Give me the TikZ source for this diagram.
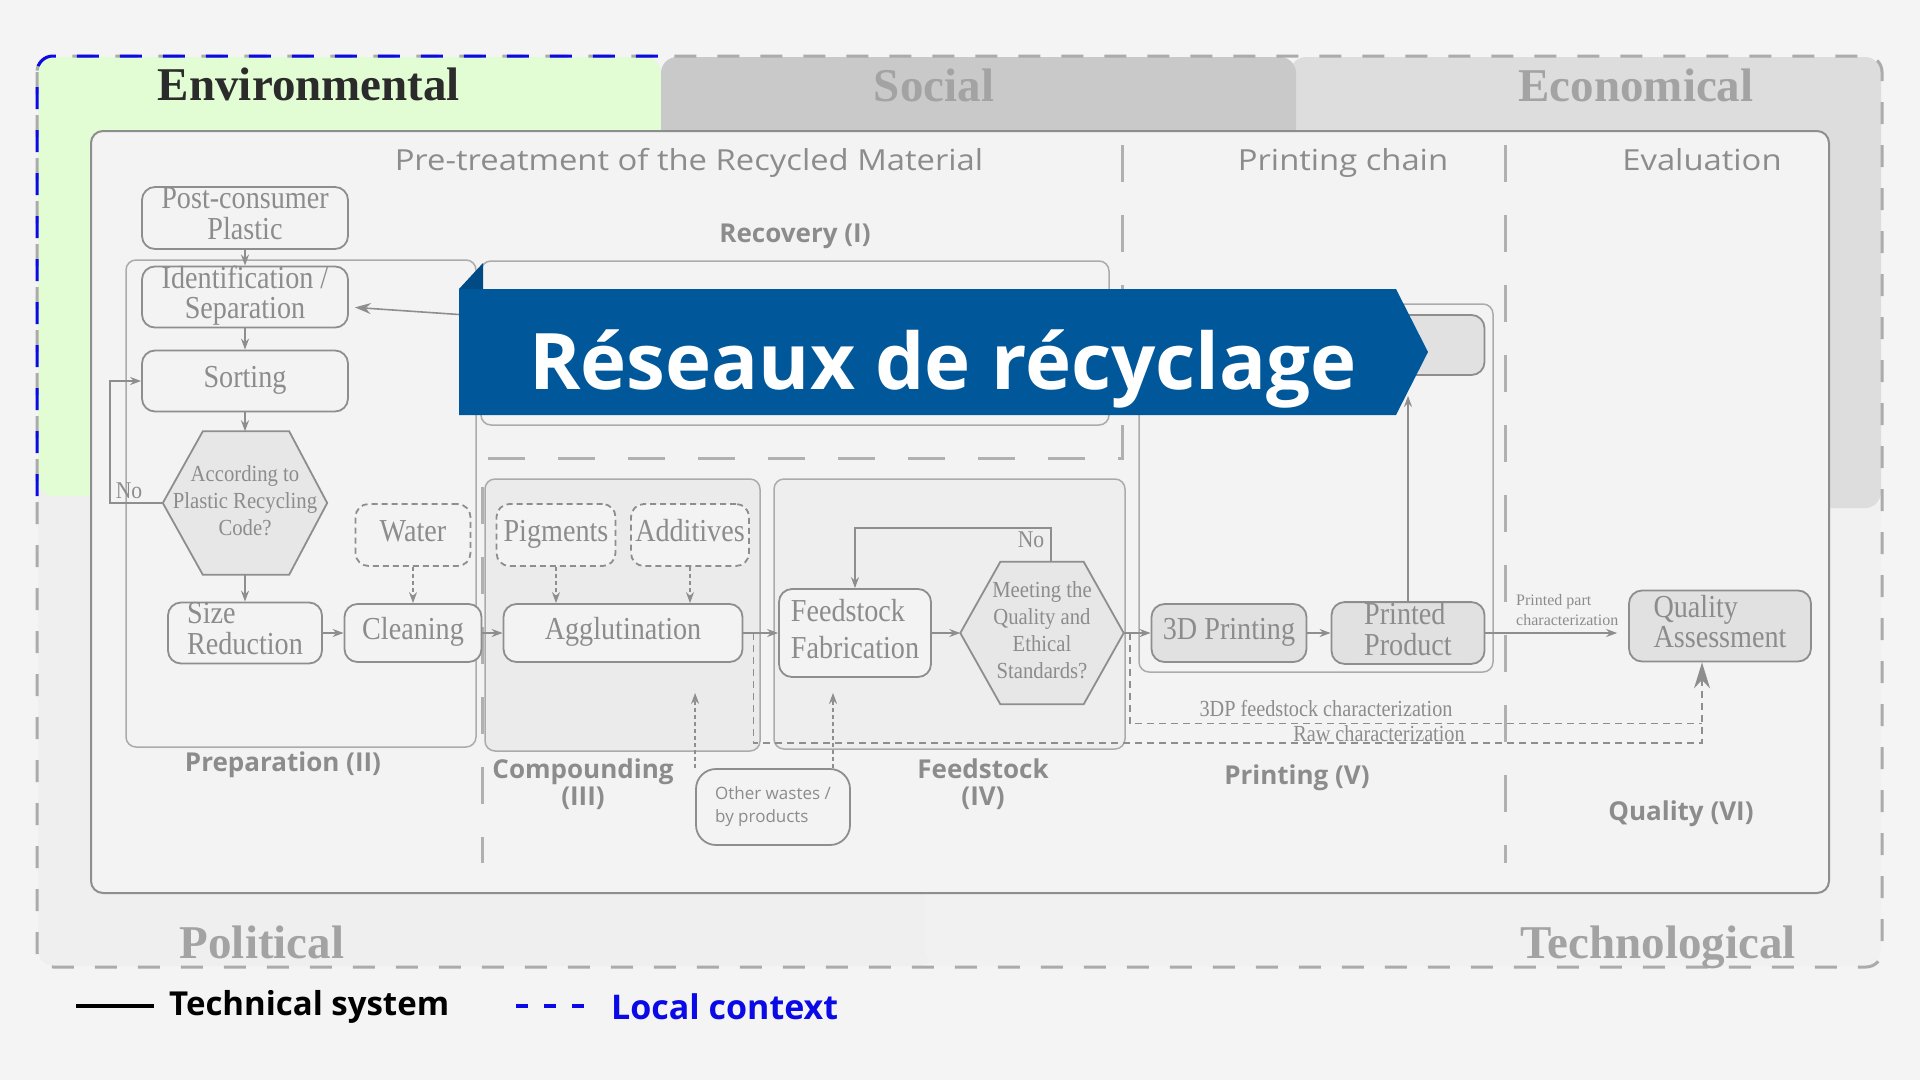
\documentclass[tikz,border=0pt]{standalone}
\usepackage{fontspec}
\usepackage{graphicx}
\setmainfont{Liberation Serif}
\newfontfamily\osans{Open Sans}
\usetikzlibrary{arrows.meta,calc}

\definecolor{pagebg}{HTML}{F4F4F4}
\definecolor{polbg}{HTML}{EFEFEF}
\definecolor{techbg}{HTML}{F1F1F1}
\definecolor{envbg}{HTML}{E2FCD3}
\definecolor{socbg}{HTML}{C9C9C9}
\definecolor{ecobg}{HTML}{DDDDDD}
\definecolor{innerbg}{HTML}{F3F3F3}
\definecolor{edgegray}{HTML}{8E8E8E}
\definecolor{lightedge}{HTML}{ABABAB}
\definecolor{txtgray}{HTML}{8C8C8C}
\definecolor{titlegray}{HTML}{A3A3A3}
\definecolor{envtxt}{HTML}{2B2B2B}
\definecolor{nodebg}{HTML}{F3F3F3}
\definecolor{darkbg}{HTML}{E1E1E1}
\definecolor{hexbg}{HTML}{E7E7E7}
\definecolor{compbg}{HTML}{EBEBEB}
\definecolor{feedbg}{HTML}{EEEEEE}
\definecolor{bannerblue}{HTML}{00589B}
\definecolor{bannerdark}{HTML}{004A86}
\definecolor{localblue}{HTML}{0A0AE6}
\definecolor{sepgray}{HTML}{B0B0B0}

\newcommand\ntxt[1]{\scalebox{0.88}[1]{\begin{tabular}{@{}c@{}}#1\end{tabular}}}
\newcommand\ntxtl[1]{\scalebox{0.88}[1]{\begin{tabular}{@{}l@{}}#1\end{tabular}}}
\newcommand\htxt[1]{\scalebox{0.9}[1]{\begin{tabular}{@{}c@{}}#1\end{tabular}}}
\newcommand\widetxt[1]{\scalebox{1.13}[1]{#1}}

\tikzset{
  title/.style={font=\fontsize{47}{50}\selectfont\bfseries, anchor=base, inner sep=0},
  head/.style={font=\osans\fontsize{29}{32}\selectfont, text=txtgray, anchor=base, inner sep=0},
  phase/.style={font=\osans\bfseries\fontsize{26}{27}\selectfont, text=txtgray, align=center, inner sep=0},
  pbox/.style={draw=edgegray, line width=1.8, fill=nodebg, rounded corners=13, inner sep=0, text=txtgray, font=\fontsize{32}{29}\selectfont},
  gbox/.style={pbox, fill=darkbg},
  dbox/.style={pbox, dash pattern=on 6 off 4},
  hexn/.style={inner sep=0, draw=none},
  hexd/.style={draw=edgegray, line width=1.8, fill=hexbg},
  hext/.style={inner sep=0, text=txtgray, font=\fontsize{23}{27}\selectfont},
  cont/.style={draw=lightedge, line width=1.5, rounded corners=10},
  flow/.style={draw=edgegray, line width=1.6, -{Stealth[length=11,width=8]}},
  dflow/.style={flow, dash pattern=on 4 off 3},
  fdash/.style={draw=edgegray, line width=1.8, dash pattern=on 7 off 5},
  sepline/.style={draw=sepgray, line width=3, dash pattern=on 37 off 33},
  small/.style={text=txtgray, inner sep=0},
}

\begin{document}
\begin{tikzpicture}[x=1pt,y=-1pt]
\useasboundingbox (0,0) rectangle (1920,1080);
\fill[pagebg] (0,0) rectangle (1920,1080);

% context regions
\fill[polbg, rounded corners=16] (38,480) rectangle (935,966);
\fill[techbg, rounded corners=16] (925,495) rectangle (1881,966);
\fill[ecobg, rounded corners=16] (1290,57) rectangle (1881,508);
\fill[envbg, rounded corners=16] (38,57) rectangle (661,496);
\fill[socbg, rounded corners=16] (661,57) rectangle (1296,160);

% local context border
\draw[draw=lightedge, line width=3, dash pattern=on 22 off 21, rounded corners=16] (37,56) rectangle (1882,967);
\draw[draw=localblue, line width=3, dash pattern=on 22 off 21, rounded corners=16] (37,496) -- (37,56) -- (661,56);

% technical system box
\draw[draw=edgegray, line width=2, fill=innerbg, rounded corners=12] (91,131) rectangle (1829,893);

% context titles
\node[title, text=envtxt] (tenv) at (309,100) {Environmental};
\node[title, text=titlegray] (tsoc) at (934,101) {Social};
\node[title, text=titlegray] (teco) at (1636,101) {Economical};
\node[title, text=titlegray] (tpol) at (262,958) {Political};
\node[title, text=titlegray] (ttec) at (1658,958) {Technological};

% headers
\node[head] (h1) at (689,170) {\widetxt{Pre-treatment of the Recycled Material}};
\node[head] (h2) at (1343,170) {\widetxt{Printing chain}};
\node[head] (h3) at (1702,170) {\widetxt{Evaluation}};

% separators
\draw[sepline] (1122,145) -- (1122,458) -- (486,458);
\draw[sepline] (482,487) -- (482,863);
\draw[sepline] (1505,145) -- (1505,863);

% containers
\draw[cont] (126,260) rectangle (476,747);
\draw[cont] (481,261) rectangle (1109,425);
\draw[cont, fill=compbg] (485,479) rectangle (760,751);
\draw[cont, fill=feedbg] (774,479) rectangle (1125,749);
\draw[cont] (1139,304) rectangle (1493,672);

% phase labels
\node[phase] (lrec) at (795,236) {Recovery (I)};
\node[phase] (lprep) at (283,765) {Preparation (II)};
\node[phase] (lcomp) at (583,784) {Compounding\\(III)};
\node[phase] (lfeed) at (983,784) {Feedstock\\(IV)};
\node[phase] (lprint) at (1297,778) {Printing (V)};
\node[phase] (lqual) at (1681,814) {Quality (VI)};

% process nodes
\node[pbox, minimum width=206, minimum height=62] (pc) at (245,218) {\ntxt{Post-consumer\\Plastic}};
\node[pbox, minimum width=206, minimum height=60] (ids) at (245,297) {\ntxt{Identification /\\Separation}};
\node[pbox, minimum width=206, minimum height=61] (sort) at (245,381) {\ntxt{Sorting}};
\node[hexn, minimum width=164, minimum height=143] (hexA) at (245,503) {};
\draw[hexd] (hexA.west) -- ($(hexA.north west)+(40,0)$) -- ($(hexA.north east)+(-38,0)$) -- (hexA.east) -- ($(hexA.south east)+(-38,0)$) -- ($(hexA.south west)+(40,0)$) -- cycle;
\node[hext] (hexAt) at (hexA) {\htxt{According to\\Plastic Recycling\\Code?}};
\node[pbox, minimum width=154, minimum height=61] (size) at (245,633) {\ntxtl{Size\\Reduction}};
\node[dbox, minimum width=115, minimum height=62] (water) at (413,535) {\ntxt{Water}};
\node[pbox, minimum width=137, minimum height=58] (clean) at (413,633) {\ntxt{Cleaning}};
\node[dbox, minimum width=119, minimum height=62] (pig) at (556,535) {\ntxt{Pigments}};
\node[dbox, minimum width=118, minimum height=62] (add) at (690,535) {\ntxt{Additives}};
\node[pbox, minimum width=239, minimum height=58] (agg) at (623,633) {\ntxt{Agglutination}};
\node[pbox, minimum width=152, minimum height=88, font=\fontsize{32}{37}\selectfont] (ff) at (855,633) {\ntxtl{Feedstock\\Fabrication}};
\node[hexn, minimum width=163, minimum height=142] (hexB) at (1042,633) {};
\draw[hexd] (hexB.west) -- ($(hexB.north west)+(40,0)$) -- ($(hexB.north east)+(-40,0)$) -- (hexB.east) -- ($(hexB.south east)+(-40,0)$) -- ($(hexB.south west)+(40,0)$) -- cycle;
\node[hext] (hexBt) at (hexB) {\htxt{Meeting the\\Quality and\\Ethical\\Standards?}};
\node[gbox, minimum width=155, minimum height=58] (print3d) at (1229,633) {\ntxt{3D Printing}};
\node[gbox, minimum width=153, minimum height=58] (pp) at (1408,633) {\ntxtl{Printed\\Product}};
\node[gbox, minimum width=333, minimum height=60] (hid) at (1318,345) {};
\node[gbox, minimum width=182, minimum height=71] (qa) at (1720,626) {\ntxtl{Quality\\Assessment}};
\node[pbox, rounded corners=20, minimum width=154, minimum height=76, font=\osans\fontsize{17}{23}\selectfont, align=left] (ow) at (773,807) {Other wastes /\\by products};

% connectors
\draw[flow] (pc) -- (ids);
\draw[flow] (ids) -- (sort);
\draw[flow] (sort) -- (hexA);
\draw[flow] (hexA) -- (size);
\draw[flow] (size) -- (clean);
\draw[dflow] (water) -- (clean);
\draw[flow] (clean) -- (agg);
\draw[dflow] (pig.south) -- (pig.south |- agg.north);
\draw[dflow] (add.south) -- (add.south |- agg.north);
\draw[flow] (agg) -- (ff);
\draw[flow] (ff) -- (hexB);
\draw[flow] (hexB) -- (print3d);
\draw[flow] (print3d) -- (pp);
\draw[flow, shorten >=20] (pp.north) -- (pp.north |- hid.south);
\draw[flow, shorten >=11] (pp.east) -- (pp.east -| qa.west);
\node[small, font=\fontsize{16}{20}\selectfont, align=left, anchor=south west] (ppc) at (1516,626) {Printed part\\characterization};

\draw[flow] (hexA.west) -- ++(-53,0) |- (sort.west);
\node[small, font=\fontsize{24}{26}\selectfont] (noA) at (129,491) {\scalebox{0.9}[1]{No}};
\draw[flow] ($(hexB.north)+(9,0)$) -- ++(0,-34) -| (ff.north);
\node[small, font=\fontsize{24}{26}\selectfont] (noB) at (1031,540) {\scalebox{0.9}[1]{No}};

\coordinate (recin) at (481,316);
\draw[flow, -{Stealth[length=16,width=11]}, shorten >=6] (recin) -- ($(ids.east)+(0,10)$);

\draw[dflow, shorten >=30] (ow.north west) -- (ow.north west |- agg.south);
\coordinate (owr) at ($(ow.north)+(60,0)$);
\draw[dflow, shorten >=15] (owr) -- (owr |- ff.south);

\coordinate (rawA) at ($(agg.east)+(10,0)$);
\coordinate (qain) at ($(qa.south)+(-18,0)$);
\draw[fdash] ($(hexB.east)+(6,0)$) |- ($(qain)+(0,61)$);
\draw[fdash, -{Stealth[length=26,width=16]}] (rawA) -- ++(0,110) -| (qain);
\node[small, font=\fontsize{23}{25}\selectfont, anchor=base] (l3dp) at (1326,716) {\scalebox{0.88}[1]{3DP feedstock characterization}};
\node[small, font=\fontsize{23}{25}\selectfont, anchor=base] (lraw) at (1379,741) {\scalebox{0.88}[1]{Raw characterization}};

% banner
\fill[bannerblue] (459,289) -- (1396,289) -- (1428,352) -- (1396,415) -- (459,415) -- cycle;
\fill[bannerdark] (459,289) -- (483,263) -- (483,289) -- cycle;
\node[font=\osans\bfseries\fontsize{78}{80}\selectfont, text=white, anchor=base, inner sep=0] (banner) at (943,389) {Réseaux de récyclage};

% legend
\node[font=\osans\bfseries\fontsize{33}{36}\selectfont, anchor=base west, inner sep=0] (leg1) at (169,1015) {Technical system};
\draw[line width=4] ($(leg1.west)+(-93,0)$) -- ($(leg1.west)+(-15,0)$);
\node[font=\osans\bfseries\fontsize{34}{36}\selectfont, text=localblue, anchor=base west, inner sep=0] (leg2) at (611,1019) {Local context};
\draw[localblue, line width=4, dash pattern=on 12 off 16] ($(leg2.west)+(-95,0)$) -- ($(leg2.west)+(-26,0)$);
\end{tikzpicture}
\end{document}
